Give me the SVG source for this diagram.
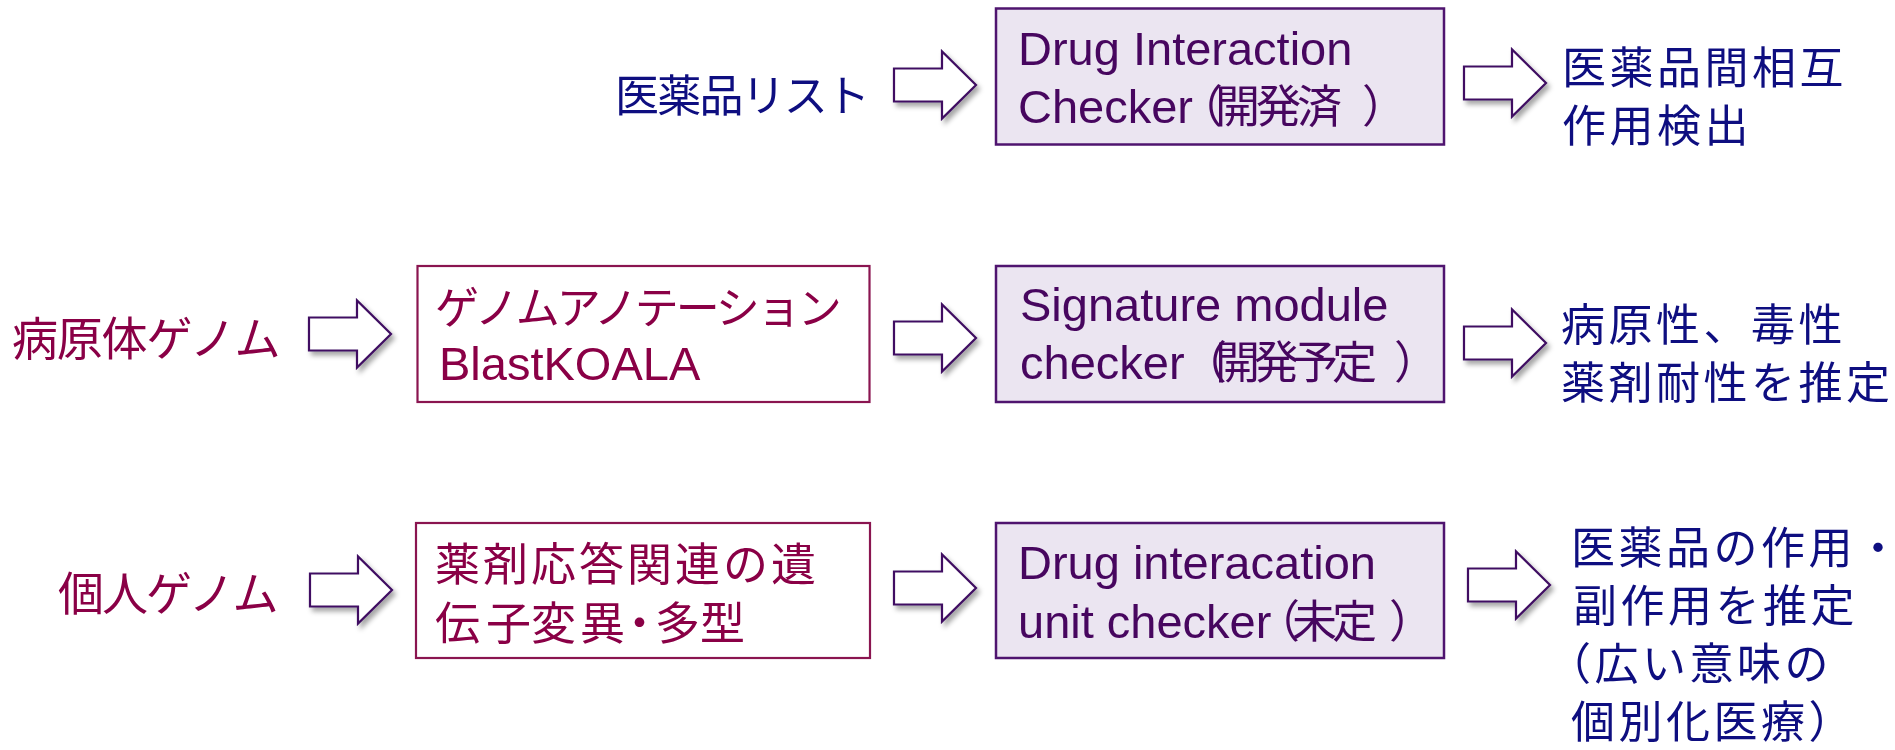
<svg xmlns="http://www.w3.org/2000/svg" width="1895" height="750" viewBox="0 0 1895 750">
<style>
text{font-family:"Liberation Sans","Noto Sans CJK JP",sans-serif;}
.lat{font-size:47px;}
.cj{font-family:"Noto Sans CJK JP",sans-serif;}
.pur{fill:#47065f;}
.mar{fill:#8a0046;}
.nav{fill:#0e0e80;}
.pbox{fill:#ebe5f1;stroke:#4f146f;stroke-width:2.5;}
.mbox{fill:#ffffff;stroke:#8a1550;stroke-width:2.2;}
.arr{fill:#ffffff;stroke:#3f0f62;stroke-width:2.2;stroke-linejoin:miter;}
.rc{font-size:44px;letter-spacing:3.5px;}
</style>
<defs>
<filter id="sh" x="-20%" y="-30%" width="150%" height="170%">
<feDropShadow dx="3" dy="4" stdDeviation="2.5" flood-color="#000000" flood-opacity="0.35"/>
</filter>
<path id="arrow" d="M0,-16.5 H48 V-33.5 L82,0 L48,33.5 V16.5 H0 Z"/>
</defs>
<rect width="1895" height="750" fill="#ffffff"/>

<g id="connectors" class="arr" filter="url(#sh)">
<use href="#arrow" transform="translate(894,85)"/>
<use href="#arrow" transform="translate(1464,83)"/>
<use href="#arrow" transform="translate(309,334)"/>
<use href="#arrow" transform="translate(894,338)"/>
<use href="#arrow" transform="translate(1464,343)"/>
<use href="#arrow" transform="translate(310,590)"/>
<use href="#arrow" transform="translate(894,588)"/>
<use href="#arrow" transform="translate(1468,585)"/>
</g>

<g id="in-druglist">
<text class="cj nav" x="615" y="112" font-size="44" letter-spacing="-1.8">医薬品リスト</text>
</g>
<g id="in-pathogen">
<text class="cj mar" x="12" y="355" font-size="46" letter-spacing="-1.2">病原体ゲノム</text>
</g>
<g id="in-personal">
<text class="cj mar" x="58" y="610" font-size="46" letter-spacing="-2">個人ゲノム</text>
</g>

<g id="box-dic">
<rect class="pbox" x="996" y="8.5" width="448" height="136"/>
<text class="lat pur" x="1018" y="65">Drug Interaction</text>
<text class="lat pur" x="1018" y="123">Checker<tspan class="cj" font-size="45" x="1178 1215 1256 1297 1362">（開発済）</tspan></text>
</g>

<g id="box-annotation">
<rect class="mbox" x="417.5" y="266" width="452" height="136"/>
<text class="cj mar" x="435" y="324" font-size="44" letter-spacing="-3">ゲノムアノテーション</text>
<text class="lat mar" x="439" y="380">BlastKOALA</text>
</g>

<g id="box-signature">
<rect class="pbox" x="996" y="266" width="448" height="136"/>
<text class="lat pur" x="1020" y="321">Signature module</text>
<text class="lat pur" x="1020" y="379">checker<tspan class="cj" font-size="45" x="1182 1215 1254 1293 1332 1394">（開発予定）</tspan></text>
</g>

<g id="box-variants">
<rect class="mbox" x="416" y="523" width="454" height="135"/>
<text class="cj mar" x="435" y="581" font-size="45" letter-spacing="3">薬剤応答関連の遺</text>
<text class="cj mar" x="435" y="640" font-size="45"><tspan x="435 486 531 580 617 655 700">伝子変異・多型</tspan></text>
</g>

<g id="box-unit">
<rect class="pbox" x="996" y="523" width="448" height="135"/>
<text class="lat pur" x="1018" y="579">Drug interacation</text>
<text class="lat pur" x="1018" y="638">unit checker<tspan class="cj" font-size="45" x="1255 1292 1332 1389">（未定）</tspan></text>
</g>

<g id="out-interaction">
<text class="cj nav rc" x="1562" y="84" letter-spacing="4.8">医薬品間相互</text>
<text class="cj nav rc" x="1562" y="142" letter-spacing="4">作用検出</text>
</g>

<g id="out-pathogenicity">
<text class="cj nav rc" x="1561" y="341" letter-spacing="3">病原性、毒性</text>
<text class="cj nav rc" x="1561" y="399" letter-spacing="3.7">薬剤耐性を推定</text>
</g>

<g id="out-effects">
<text class="cj nav rc" x="1571" y="564" font-size="43" letter-spacing="0.8">医薬品の作用・</text>
<text class="cj nav rc" x="1573" y="622" letter-spacing="3.8">副作用を推定</text>
<text class="cj nav rc" x="1547" y="680" letter-spacing="2.5">（広い意味の</text>
<text class="cj nav rc" x="1571" y="738" letter-spacing="2.5">個別化医療）</text>
</g>
</svg>
